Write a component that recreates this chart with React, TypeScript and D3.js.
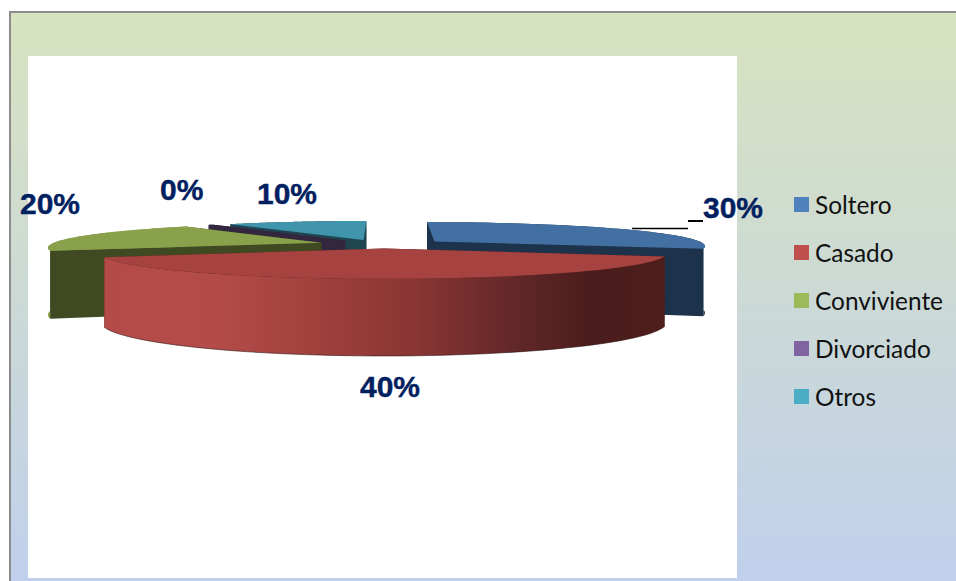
import React from "react";
import * as d3 from "d3";

// Estado civil: percentage share per category
const categories = ["Soltero", "Casado", "Conviviente", "Divorciado", "Otros"];
const seriesValues = [30, 40, 20, 0.4, 10];
const topColors = ["#4370a2", "#a6423f", "#8aa14c", "#33263f", "#4095ac"];
const cutColors = ["#1d334c", "#4a1c1b", "#404a22", "#33263f", "#1f4650"];
const rimColors = ["#1d334c", "url(#redWall)", "#8aa14c", "#33263f", "#1f4650"];
const legendColors = ["#4f81bd", "#c0504d", "#9bbb59", "#8064a2", "#4bacc6"];
const paintOrder = [4, 3, 0, 2, 1];

const W = 956;
const H = 581;

// Camera model for the tilted pie
const VANISH_X = 383;
const HORIZON_Y = 244;
const RADIUS = 270;
const EXPLODE_X = 65;
const EXPLODE_Z = 50;
const PERSPECTIVE = 0.17;
const TILT = 0.087;

const depthScale = (z: number) => 1 / (1 + (PERSPECTIVE * z) / RADIUS);
const thickness = (s: number) => 22 + 44 * s;

type P = { x: number; y: number };
const project = (wx: number, wz: number, lowered = false): P => {
  const s = depthScale(wz);
  return {
    x: VANISH_X + wx * s,
    y: HORIZON_Y - wz * s * TILT + (lowered ? thickness(s) : 0),
  };
};

const outline = d3
  .line<P>()
  .x((d) => d.x)
  .y((d) => d.y);

const pie = d3
  .pie<number>()
  .sort(null)
  .startAngle(0)
  .endAngle(2 * Math.PI);

const slices = pie(seriesValues).map((arc, i) => {
  const mid = (arc.startAngle + arc.endAngle) / 2;
  const ox = EXPLODE_X * Math.sin(mid);
  const oz = EXPLODE_Z * Math.cos(mid);
  const rim = (a: number, low = false) =>
    project(ox + RADIUS * Math.sin(a), oz + RADIUS * Math.cos(a), low);
  const steps = d3.range(0, 61).map((t) => arc.startAngle + ((arc.endAngle - arc.startAngle) * t) / 60);
  const apex = project(ox, oz);
  const apexLow = project(ox, oz, true);
  const top = outline([apex, ...steps.map((a) => rim(a))])! + "Z";
  const cutStart = outline([apex, rim(arc.startAngle), rim(arc.startAngle, true), apexLow])! + "Z";
  const cutEnd = outline([apex, rim(arc.endAngle), rim(arc.endAngle, true), apexLow])! + "Z";
  const wall =
    outline([...steps.map((a) => rim(a)), ...steps.slice().reverse().map((a) => rim(a, true))])! + "Z";
  const lowerRim = outline(steps.map((a) => rim(a, true)))!;
  return { i, top, cutStart, cutEnd, wall, lowerRim };
});

// Percentage labels with their anchor points
const percentLabels = seriesValues.map((v) => `${Math.round(v)}%`);
const labelAnchors: [number, number][] = [
  [703, 218],
  [360, 397],
  [20, 214],
  [160, 200],
  [257, 204],
];
const legendY = [197, 245, 293, 341, 389];

const redStops: [string, string][] = [
  ["0%", "#b44b48"],
  ["20%", "#b34c49"],
  ["35%", "#a3423f"],
  ["55%", "#8b3634"],
  ["72%", "#66292a"],
  ["87%", "#4a1c1b"],
  ["100%", "#4d1e1c"],
];

export default function App() {
  return (
    <svg
      width={W}
      height={H}
      viewBox={`0 0 ${W} ${H}`}
      style={{ position: "absolute", left: 0, top: 0, display: "block" }}
    >
      <defs>
        <linearGradient id="backdrop" x1="0" y1="0" x2="0" y2="1">
          <stop offset="0%" stopColor="#d8e3bf" />
          <stop offset="100%" stopColor="#c0d0ec" />
        </linearGradient>
        <linearGradient id="redWall" gradientUnits="userSpaceOnUse" x1="104" y1="0" x2="662" y2="0">
          {redStops.map(([o, c]) => (
            <stop key={o} offset={o} stopColor={c} />
          ))}
        </linearGradient>
      </defs>
      <rect width={W} height={H} fill="#fff" />
      <rect x={9} y={11} width={W - 9} height={H - 11} fill="url(#backdrop)" />
      <rect x={9} y={11} width={W - 9} height={2} fill="#8c8c8c" />
      <rect x={9} y={11} width={2} height={H - 11} fill="#8c8c8c" />
      <rect x={28} y={56} width={709} height={522} fill="#fff" />

      <line x1={632} y1={228.5} x2={688} y2={228.5} stroke="#000" strokeWidth={1.5} />
      <line x1={688} y1={221} x2={703} y2={221} stroke="#000" strokeWidth={2} />

      {paintOrder.map((idx) => {
        const s = slices[idx];
        const wall = <path d={s.wall} fill={rimColors[idx]} />;
        // The Conviviente rim sits behind its cut face, showing only as a sliver on the left
        const rimFirst = idx === 2;
        return (
          <g key={categories[idx]}>
            {rimFirst && wall}
            <path d={s.cutStart} fill={cutColors[idx]} />
            <path d={s.cutEnd} fill={cutColors[idx]} />
            {!rimFirst && wall}
            {idx === 1 && (
              <path d={s.lowerRim} fill="none" stroke="#2a0f0e" strokeWidth={0.8} strokeOpacity={0.7} />
            )}
            <path d={s.top} fill={topColors[idx]} />
          </g>
        );
      })}

      {percentLabels.map((t, i) => (
        <text
          key={categories[i]}
          x={labelAnchors[i][0]}
          y={labelAnchors[i][1]}
          fontFamily="'Liberation Sans', Arial, sans-serif"
          fontWeight={700}
          fontSize={30}
          fill="#002060"
          stroke="#002060"
          strokeWidth={0.4}
        >
          {t}
        </text>
      ))}

      {categories.map((c, i) => (
        <g key={c}>
          <rect x={794} y={legendY[i]} width={15} height={15} fill={legendColors[i]} />
          <text x={815} y={legendY[i] + 17} fontFamily="Lato, sans-serif" fontSize={24.4} fill="#111">
            {c}
          </text>
        </g>
      ))}
    </svg>
  );
}
